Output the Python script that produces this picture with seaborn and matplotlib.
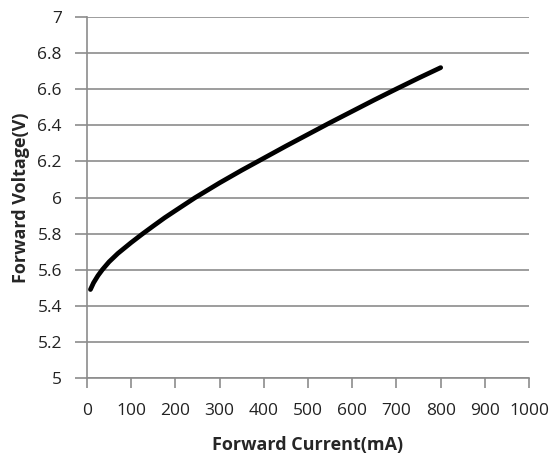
import matplotlib
matplotlib.use("Agg")
import matplotlib.pyplot as plt
import pandas as pd
import seaborn as sns

# forward current (mA) vs forward voltage (V)
current_ma = [8, 15, 25, 35, 50, 70, 100, 125, 150, 176, 200, 244, 300, 350,
              400, 450, 500, 550, 600, 650, 700, 750, 800]
voltage_v = [5.49, 5.527, 5.567, 5.60, 5.643, 5.69, 5.75, 5.797, 5.842, 5.888, 5.927,
             5.998, 6.081, 6.151, 6.218, 6.285, 6.35, 6.415, 6.478, 6.541, 6.602, 6.662, 6.72]

x_ticks = list(range(0, 1001, 100))
y_ticks = [5, 5.2, 5.4, 5.6, 5.8, 6, 6.2, 6.4, 6.6, 6.8, 7]
y_tick_labels = ["5", "5.2", "5.4", "5.6", "5.8", "6", "6.2", "6.4", "6.6", "6.8", "7"]

sns.set_style("white")
plt.rcParams["font.family"] = ["Open Sans", "DejaVu Sans"]

df = pd.DataFrame({"current": current_ma, "voltage": voltage_v})

fig = plt.figure(figsize=(5.57, 4.62), dpi=100)
ax = fig.add_axes([0.156, 0.182, 0.794, 0.781])

sns.lineplot(data=df, x="current", y="voltage", ax=ax, color="black", linewidth=3.4)

ax.set_xlim(0, 1000)
ax.set_ylim(5, 7)
ax.set_xticks(x_ticks)
ax.set_yticks(y_ticks)
ax.set_yticklabels(y_tick_labels)
ax.grid(axis="y", color="#8c8c8c", linewidth=1.2)
ax.set_axisbelow(True)

grey = "#8c8c8c"
for side in ["top", "right"]:
    ax.spines[side].set_visible(False)
for side in ["left", "bottom"]:
    ax.spines[side].set_color(grey)
    ax.spines[side].set_linewidth(1.2)

ax.tick_params(axis="y", length=9, width=1.2, color=grey, labelsize=12.5, pad=9,
               labelcolor="#222222", left=True, direction="out")
ax.tick_params(axis="x", length=7, width=1.2, color=grey, labelsize=12.5, pad=11,
               labelcolor="#222222", bottom=True, direction="out")

ax.set_xlabel("Forward Current(mA)", fontsize=13, fontweight="bold", labelpad=12)
ax.set_ylabel("Forward Voltage(V)", fontsize=13, fontweight="bold", labelpad=5)

fig.savefig("out.png", dpi=100)
